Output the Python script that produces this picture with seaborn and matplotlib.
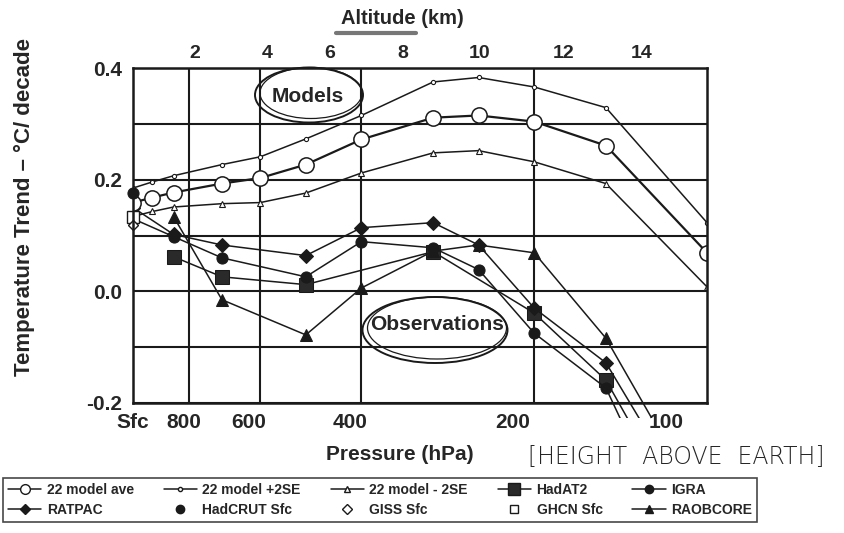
import numpy as np
import pandas as pd
import matplotlib.pyplot as plt
from matplotlib.lines import Line2D
from matplotlib.patches import Ellipse, Rectangle
import seaborn as sns

nan = np.nan

# pressure levels in hPa (Sfc is drawn at 1000)
levels = [1000, 925, 850, 700, 600, 500, 400, 300, 250, 200, 150, 100]

# models
model_ave = [0.159, 0.168, 0.177, 0.193, 0.203, 0.227, 0.272, 0.311, 0.315, 0.304, 0.261, 0.069]
model_plus = [0.185, 0.196, 0.207, 0.227, 0.241, 0.273, 0.315, 0.375, 0.383, 0.366, 0.329, 0.123]
model_minus = [0.134, 0.143, 0.151, 0.157, 0.159, 0.176, 0.212, 0.248, 0.252, 0.232, 0.193, 0.008]

# observations (radiosondes)
hadat2 = [nan, nan, 0.062, 0.026, nan, 0.012, nan, 0.071, nan, -0.039, -0.159, -0.48]
igra = [0.130, nan, 0.098, 0.060, nan, 0.026, 0.089, 0.078, 0.039, -0.075, -0.173, -0.56]
ratpac = [0.150, nan, 0.102, 0.083, nan, 0.064, 0.114, 0.123, 0.083, -0.030, -0.128, -0.43]
raobcore = [nan, nan, 0.134, -0.015, nan, -0.078, 0.006, 0.072, 0.083, 0.069, -0.084, -0.40]

# surface only
hadcrut_sfc = 0.177
giss_sfc = 0.119
ghcn_sfc = 0.134

grid_p = [800, 600, 400, 200]
bottom_labels = ['Sfc', '800', '600', '400', '200', '100']
bottom_label_p = [1000, 815, 628, 419, 218, 118]
alt_labels = ['2', '4', '6', '8', '10', '12', '14']
alt_label_p = [780, 584, 454, 339, 249, 178, 130]

sns.set_theme(style='white')
plt.rcParams['font.family'] = ['Liberation Sans', 'DejaVu Sans']

W, H = 844, 533
fig = plt.figure(figsize=(W / 100, H / 100), dpi=100)
ax = fig.add_axes([133 / W, 1 - 403 / H, (707 - 133) / W, (403 - 68) / H])

clip = Rectangle((0, -0.045), 1, 1.045, transform=ax.transAxes)


def draw(vals, lw=1.1, **kw):
    d = pd.DataFrame({'p': levels, 'trend': vals})
    sns.lineplot(data=d, x='p', y='trend', ax=ax, sort=False, estimator=None,
                 color='k', lw=lw, markeredgecolor='k', **kw)
    line = ax.lines[-1]
    line.set_clip_path(clip)
    return line


def draw_sfc(val, **kw):
    d = pd.DataFrame({'p': [levels[0]], 'trend': [val]})
    sns.lineplot(data=d, x='p', y='trend', ax=ax, estimator=None,
                 color='k', markeredgecolor='k', **kw)
    ax.lines[-1].set_clip_on(False)


# observations
draw(hadat2, marker='s', markersize=10, markerfacecolor='#2a2a2a')
draw(igra, marker='o', markersize=8, markerfacecolor='k')
draw(ratpac, marker='D', markersize=7, markerfacecolor='k')
draw(raobcore, marker='^', markersize=8, markerfacecolor='k')

# models
draw(model_plus, marker='o', markersize=3, markerfacecolor='white', markeredgewidth=0.8)
draw(model_minus, marker='^', markersize=5, markerfacecolor='white', markeredgewidth=0.8)
draw(model_ave, marker='o', markersize=11, markerfacecolor='white', markeredgewidth=1.1, lw=1.6)

draw_sfc(ghcn_sfc, marker='s', markersize=9, markerfacecolor='white', markeredgewidth=1.0)
draw_sfc(giss_sfc, marker='D', markersize=5, markerfacecolor='white', markeredgewidth=1.0)
draw_sfc(hadcrut_sfc, marker='o', markersize=8, markerfacecolor='k')

ax.set_xscale('log')
ax.set_xlim(1000, 100)
ax.set_ylim(-0.2, 0.4)
ax.set_xlabel('')
ax.set_ylabel('')

# grid
ax.set_xticks(grid_p)
ax.set_xticklabels([''] * len(grid_p))
ax.set_xticks(bottom_label_p, bottom_labels, minor=True)
ax.tick_params(axis='x', which='both', length=0, pad=7, labelsize=15)
ax.set_yticks([-0.2, -0.1, 0.0, 0.1, 0.2, 0.3, 0.4])
ax.set_yticklabels(['-0.2', '', '0.0', '', '0.2', '', '0.4'])
ax.tick_params(axis='y', length=0, pad=8, labelsize=15)
for lab in ax.get_xticklabels(minor=True) + ax.get_yticklabels():
    lab.set_fontweight('bold')
ax.grid(True, which='major', color='k', lw=1.5)
for s in ax.spines.values():
    s.set_color('k')
    s.set_linewidth(1.8)

# altitude axis on top
ax2 = ax.twiny()
ax2.set_xscale('log')
ax2.set_xlim(ax.get_xlim())
ax2.set_xticks(alt_label_p, alt_labels)
ax2.set_xticks([], minor=True)
ax2.tick_params(axis='x', length=0, pad=4, labelsize=14)
for lab in ax2.get_xticklabels():
    lab.set_fontweight('bold')
ax2.grid(False)
for s in ax2.spines.values():
    s.set_visible(False)

# texts
fig.text(402 / W, 1 - 18 / H, 'Altitude (km)', ha='center', va='center',
         fontsize=14.5, fontweight='bold')
fig.add_artist(Line2D([336 / W, 416 / W], [1 - 33 / H, 1 - 33 / H],
                      color='#777777', lw=3, transform=fig.transFigure))
fig.text(24 / W, 1 - 207 / H, 'Temperature Trend \u2013 \u00b0C/ decade', rotation=90,
         ha='center', va='center', fontsize=16, fontweight='bold')
fig.text(400 / W, 1 - 455 / H, 'Pressure (hPa)', ha='center', va='center',
         fontsize=15, fontweight='bold')
fig.text(676 / W, 1 - 457 / H, '[HEIGHT  ABOVE  EARTH]', ha='center', va='center',
         fontsize=17, family=['DejaVu Sans'], fontweight='light')

fig.text(308 / W, 1 - 97 / H, 'Models', ha='center', va='center',
         fontsize=15, fontweight='bold')
fig.text(437 / W, 1 - 325 / H, 'Observations', ha='center', va='center',
         fontsize=15, fontweight='bold')
for cx, cy, w, h in [(309, 95, 108, 55), (435, 330, 145, 66)]:
    fig.add_artist(Ellipse((cx / W, 1 - cy / H), w / W, h / H, fill=False,
                           ec='k', lw=1.4, transform=fig.transFigure))
    fig.add_artist(Ellipse(((cx + 2) / W, 1 - (cy - 2) / H), (w - 6) / W, (h - 4) / H,
                           fill=False, ec='k', lw=0.9, transform=fig.transFigure))

# legend
def h(**kw):
    kw.setdefault('color', 'k')
    kw.setdefault('markeredgecolor', 'k')
    return Line2D([], [], **kw)


handles = [
    h(marker='o', markersize=7, markerfacecolor='white', lw=1.1),
    h(marker='D', markersize=5, markerfacecolor='k', lw=1.1),
    h(marker='o', markersize=3, markerfacecolor='white', lw=1.1),
    h(marker='o', markersize=6, markerfacecolor='k', ls='none'),
    h(marker='^', markersize=5, markerfacecolor='white', lw=1.1),
    h(marker='D', markersize=5, markerfacecolor='white', ls='none'),
    h(marker='s', markersize=8, markerfacecolor='#2a2a2a', lw=1.1),
    h(marker='s', markersize=6, markerfacecolor='white', ls='none'),
    h(marker='o', markersize=6, markerfacecolor='k', lw=1.1),
    h(marker='^', markersize=6, markerfacecolor='k', lw=1.1),
]
labels = ['22 model ave', 'RATPAC', '22 model +2SE', 'HadCRUT Sfc',
          '22 model - 2SE', 'GISS Sfc', 'HadAT2', 'GHCN Sfc', 'IGRA', 'RAOBCORE']
leg = fig.legend(handles, labels, loc='upper left', ncol=5, mode='expand',
                 bbox_to_anchor=(3 / W, 1 - 478 / H, 754 / W, 0.0),
                 fancybox=False, frameon=True, edgecolor='k', handlelength=2.4,
                 handletextpad=0.4, borderpad=0.35, labelspacing=0.45,
                 borderaxespad=0.0, columnspacing=0.6,
                 prop={'weight': 'bold', 'size': 10})
leg.get_frame().set_linewidth(1.2)

fig.savefig('out.png', dpi=100)
